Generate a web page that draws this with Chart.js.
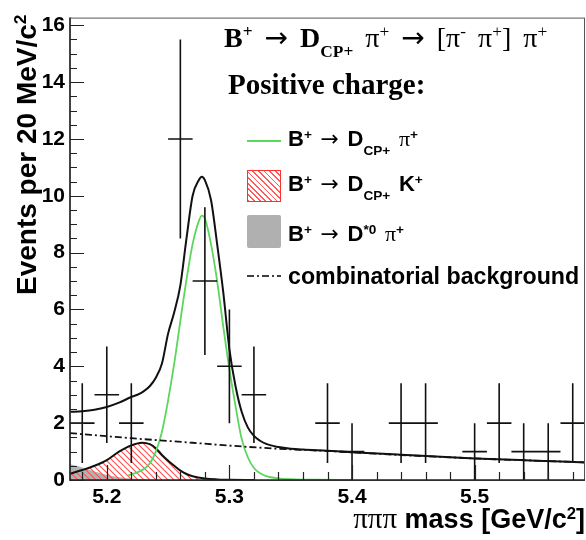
<!DOCTYPE html>
<html>
<head>
<meta charset="utf-8">
<script src="https://cdn.jsdelivr.net/npm/chart.js@4.4.0/dist/chart.umd.min.js"></script>
<style>
  html, body { margin: 0; padding: 0; background: #fff; }
  #wrap { position: relative; width: 586px; height: 540px; }
  #wrap canvas { position: absolute; left: 0; top: 0; }
  .txt { position: absolute; white-space: nowrap; color: #000; line-height: 1; }
  .sans { font-family: 'Liberation Sans', Arial, sans-serif; font-weight: bold; }
  .serif { font-family: 'Liberation Serif', 'Times New Roman', serif; font-weight: bold; }
  .pi { font-family: 'Liberation Serif', 'Times New Roman', serif; font-weight: normal; }
  .arr { font-family: 'DejaVu Sans', sans-serif; font-weight: normal; }
  .up { position: relative; top: -0.55em; font-size: 0.62em; }
  .dn { position: relative; top: 0.62em; font-size: 0.62em; }
  .sym { position: absolute; }
  .row { word-spacing: 2.5px; }
</style>
</head>
<body>
<div id="wrap">
  <canvas id="massChart" width="586" height="540"></canvas>

  <div class="txt serif" style="left:224px; top:23.5px; font-size:28px; word-spacing:5px;">B<span class="up">+</span> <span class="arr">→</span> D<span class="dn">CP+</span> <span class="pi">π<span class="up">+</span> <span class="arr">→</span> [π<span class="up">-</span> π<span class="up">+</span>] π<span class="up">+</span></span></div>
  <div class="txt serif" style="left:228px; top:70px; font-size:29px;">Positive charge:</div>

  <div class="sym" style="left:247px; top:140px; width:34px; height:2px; background:#5cd65c;"></div>
  <div class="txt sans row" style="left:288px; top:128.4px; font-size:22px;">B<span class="up">+</span> <span class="arr">→</span> D<span class="dn">CP+</span> <span class="pi">π</span><span class="up">+</span></div>

  <div class="sym" style="left:247px; top:170px; width:34px; height:32px; box-sizing:border-box; border:1.5px solid #ff3030; background:repeating-linear-gradient(45deg, #ff5a5a 0 1.2px, #fff 1.2px 4px);"></div>
  <div class="txt sans row" style="left:288px; top:173.4px; font-size:22px;">B<span class="up">+</span> <span class="arr">→</span> D<span class="dn">CP+</span> K<span class="up">+</span></div>

  <div class="sym" style="left:247px; top:215px; width:34px; height:33px; border-radius:2px; background:#b0b0b0;"></div>
  <div class="txt sans row" style="left:288px; top:223.4px; font-size:22px;">B<span class="up">+</span> <span class="arr">→</span> D<span class="up">*0</span> <span class="pi">π</span><span class="up">+</span></div>

  <svg class="sym" style="left:247px; top:272px;" width="34" height="8"><line x1="0" y1="4" x2="34" y2="4" stroke="#000" stroke-width="1.5" stroke-dasharray="7 3 2 3"/></svg>
  <div class="txt sans" style="left:288px; top:265.4px; font-size:23.2px;">combinatorial background</div>

  <div class="txt sans" style="left:13px; top:295px; font-size:28px; transform-origin:0 0; transform:rotate(-90deg);">Events per 20 MeV/c<span class="up">2</span></div>
  <div class="txt sans" style="right:1px; top:504px; font-size:27px;"><span class="pi" style="font-size:29px;">πππ</span> mass [GeV/c<span class="up">2</span>]</div>
</div>

<script>
// binned data (20 MeV bins)
const massBins = [5.18, 5.20, 5.22, 5.24, 5.26, 5.28, 5.30, 5.32, 5.34, 5.36, 5.38,
                  5.40, 5.42, 5.44, 5.46, 5.48, 5.50, 5.52, 5.54, 5.56, 5.58];
const eventCounts = [2, 3, 2, 0, 12, 7, 4, 3, 0, 0, 2, 1, 0, 2, 2, 0, 1, 2, 1, 1, 2];
const countErrors = [1.4, 1.7, 1.4, 0, 3.5, 2.6, 2.0, 1.7, 0, 0, 1.4, 1.0, 0, 1.4, 1.4, 0, 1.0, 1.4, 1.0, 1.0, 1.4];
const binHalfWidth = 0.01;

// fit curves
const fitMass = [5.17, 5.18, 5.19, 5.20, 5.21, 5.22, 5.225, 5.23, 5.235, 5.24, 5.245, 5.25, 5.255,
                 5.26, 5.265, 5.27, 5.275, 5.2775, 5.28, 5.285, 5.29, 5.295, 5.30, 5.305, 5.31,
                 5.315, 5.32, 5.325, 5.33, 5.34, 5.35, 5.36, 5.38, 5.40, 5.44, 5.50, 5.55, 5.59];
const fitTotal = [2.40, 2.42, 2.47, 2.57, 2.72, 2.92, 3.00, 3.12, 3.30, 3.60, 4.10, 5.15, 5.90,
                  6.85, 8.50, 10.0, 10.55, 10.67, 10.55, 9.85, 8.30, 6.60, 4.60, 3.30, 2.40,
                  1.85, 1.55, 1.38, 1.27, 1.16, 1.10, 1.07, 1.03, 0.98, 0.89, 0.76, 0.68, 0.62];

const sigMass = [5.2175, 5.22, 5.225, 5.23, 5.235, 5.24, 5.245, 5.25, 5.255, 5.26, 5.265, 5.27,
                 5.275, 5.2775, 5.28, 5.285, 5.29, 5.295, 5.30, 5.305, 5.31, 5.315, 5.32, 5.325,
                 5.33, 5.34, 5.35, 5.37, 5.40];
const sigValues = [0.16, 0.20, 0.27, 0.38, 0.58, 1.0, 1.7, 2.8, 4.1, 5.6, 7.05, 8.3,
                   9.1, 9.3, 9.2, 8.3, 7.0, 5.4, 3.9, 2.6, 1.45, 0.80, 0.42, 0.24,
                   0.14, 0.06, 0.03, 0.01, 0];

const dkMass = [5.17, 5.18, 5.19, 5.20, 5.21, 5.22, 5.229, 5.235, 5.24, 5.245, 5.25, 5.255,
                5.26, 5.265, 5.27, 5.28, 5.29, 5.30, 5.32];
const dkValues = [0.22, 0.35, 0.50, 0.70, 1.0, 1.22, 1.31, 1.26, 1.12, 0.88, 0.68, 0.50,
                  0.33, 0.21, 0.13, 0.05, 0.02, 0.01, 0];

const dstMass = [5.17, 5.175, 5.18, 5.185, 5.19, 5.20, 5.21, 5.22, 5.23, 5.24];
const dstValues = [0.55, 0.50, 0.44, 0.37, 0.30, 0.18, 0.10, 0.05, 0.02, 0];

const combMass = [5.17, 5.22, 5.27, 5.30, 5.34, 5.38, 5.44, 5.50, 5.59];
const combValues = [1.65, 1.47, 1.31, 1.21, 1.10, 1.02, 0.88, 0.76, 0.62];

const toPoints = (xs, ys) => xs.map((x, i) => ({ x: x, y: ys[i] }));

// red "\\\" hatch for the D K component
function makeHatch() {
  const c = document.createElement('canvas');
  c.width = 6; c.height = 6;
  const g = c.getContext('2d');
  g.strokeStyle = '#ff5050';
  g.lineWidth = 1.1;
  g.beginPath();
  g.moveTo(-1, -1); g.lineTo(7, 7);
  g.moveTo(-1, 5); g.lineTo(1, 7);
  g.moveTo(5, -1); g.lineTo(7, 1);
  g.stroke();
  return g.createPattern(c, 'repeat');
}

const crossPlugin = {
  id: 'crosses',
  afterDatasetsDraw(chart) {
    const { ctx, scales: { x, y } } = chart;
    ctx.save();
    ctx.strokeStyle = '#111';
    ctx.lineWidth = 1.6;
    ctx.beginPath();
    massBins.forEach((m, i) => {
      const n = eventCounts[i];
      if (!n) return;
      const px = x.getPixelForValue(m);
      const py = y.getPixelForValue(n);
      ctx.moveTo(x.getPixelForValue(m - binHalfWidth), py);
      ctx.lineTo(x.getPixelForValue(m + binHalfWidth), py);
      ctx.moveTo(px, y.getPixelForValue(n + countErrors[i]));
      ctx.lineTo(px, y.getPixelForValue(Math.max(0, n - countErrors[i])));
    });
    ctx.stroke();
    ctx.restore();
  }
};

// ROOT style frame with ticks pointing inwards
const framePlugin = {
  id: 'frame',
  afterDraw(chart) {
    const { ctx, chartArea: a, scales: { x, y } } = chart;
    ctx.save();
    ctx.strokeStyle = '#555';
    ctx.lineWidth = 1;
    ctx.strokeRect(a.left, a.top + 0.5, a.right - a.left - 0.5, a.bottom - a.top);
    ctx.strokeStyle = '#222';
    ctx.lineWidth = 1.5;
    ctx.beginPath();
    ctx.moveTo(a.left, a.top); ctx.lineTo(a.left, a.bottom); ctx.lineTo(a.right, a.bottom);
    ctx.stroke();
    ctx.lineWidth = 1.2;
    ctx.beginPath();
    for (let k = 0; k <= 32; k++) {
      const py = Math.round(y.getPixelForValue(k * 0.5)) + 0.5;
      ctx.moveTo(a.left, py);
      ctx.lineTo(a.left + (k % 4 === 0 ? 14 : 7), py);
    }
    for (let k = 0; k <= 20; k++) {
      const px = Math.round(x.getPixelForValue(5.18 + k * 0.02)) + 0.5;
      ctx.moveTo(px, a.bottom);
      ctx.lineTo(px, a.bottom - ((k - 1) % 5 === 0 ? 15 : 8));
    }
    ctx.stroke();
    ctx.restore();
  }
};

const tickFont = { family: "'Liberation Sans', Arial, sans-serif", size: 21, weight: 'bold' };

new Chart(document.getElementById('massChart'), {
  type: 'line',
  data: {
    datasets: [
      {
        label: 'D*0 pi',
        data: toPoints(dstMass, dstValues),
        borderWidth: 0,
        borderColor: 'rgba(0,0,0,0)',
        backgroundColor: '#b3b3b3',
        fill: 'origin',
        order: 6
      },
      {
        label: 'D K',
        data: toPoints(dkMass, dkValues),
        borderColor: '#111',
        borderWidth: 2,
        backgroundColor: makeHatch(),
        fill: 'origin',
        order: 5
      },
      {
        label: 'signal',
        data: toPoints(sigMass, sigValues),
        borderColor: '#5cd65c',
        borderWidth: 1.8,
        fill: false,
        order: 4
      },
      {
        label: 'combinatorial',
        data: toPoints(combMass, combValues),
        borderColor: '#111',
        borderWidth: 1.8,
        borderDash: [7, 3, 2, 3],
        fill: false,
        order: 3
      },
      {
        label: 'total',
        data: toPoints(fitMass, fitTotal),
        borderColor: '#111',
        borderWidth: 2,
        fill: false,
        order: 2
      }
    ]
  },
  options: {
    responsive: false,
    animation: false,
    events: [],
    devicePixelRatio: 1,
    layout: { padding: { top: 7, right: 1, left: 0, bottom: 0 } },
    elements: {
      point: { radius: 0 },
      line: { cubicInterpolationMode: 'monotone' }
    },
    plugins: { legend: { display: false }, tooltip: { enabled: false } },
    scales: {
      x: {
        type: 'linear',
        min: 5.17,
        max: 5.59,
        afterFit: (s) => { s.height = 60; },
        grid: { display: false, drawTicks: false },
        border: { display: false },
        ticks: {
          stepSize: 0.1, includeBounds: false, color: '#000', font: tickFont, padding: 5, maxRotation: 0,
          callback: (v) => v.toFixed(1)
        }
      },
      y: {
        min: 0,
        max: 16.27,
        afterFit: (s) => { s.width = 70; },
        grid: { display: false, drawTicks: false },
        border: { display: false },
        ticks: { stepSize: 2, includeBounds: false, color: '#000', font: tickFont, padding: 5 }
      }
    }
  },
  plugins: [crossPlugin, framePlugin]
});
</script>
</body>
</html>
